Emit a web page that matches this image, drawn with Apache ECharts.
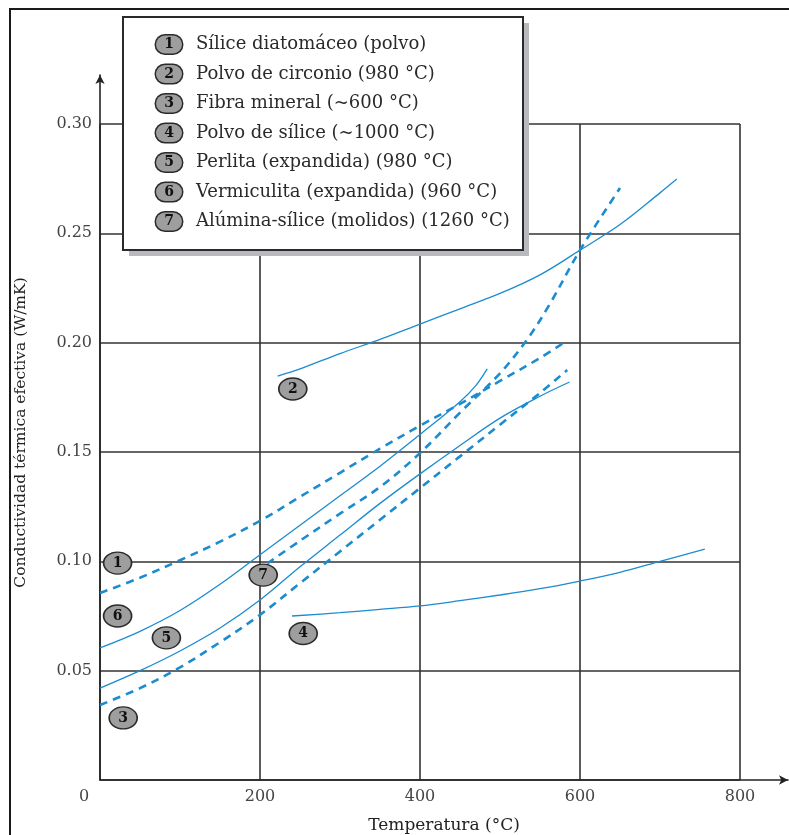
<!DOCTYPE html>
<html><head><meta charset="utf-8">
<script src="https://cdn.jsdelivr.net/npm/echarts@6/dist/echarts.min.js"></script>
<style>html,body{margin:0;padding:0;background:#fff}#c{width:789px;height:835px}</style>
</head><body><div id="c"></div>
<script>
// ---- data ----
const xTickValues = [0, 200, 400, 600, 800];
const yTickValues = [0.05, 0.10, 0.15, 0.20, 0.25, 0.30];
const seriesNames = [
  'Sílice diatomáceo (polvo)',
  'Polvo de circonio (980 °C)',
  'Fibra mineral (~600 °C)',
  'Polvo de sílice (~1000 °C)',
  'Perlita (expandida) (980 °C)',
  'Vermiculita (expandida) (960 °C)',
  'Alúmina-sílice (molidos) (1260 °C)'
];
const t1 = [0, 50, 100, 150, 200, 250, 300, 350, 400, 450, 500, 550, 584];
const k1 = [0.0855, 0.0925, 0.1005, 0.109, 0.1185, 0.1295, 0.1405, 0.1515, 0.162, 0.172, 0.1825, 0.193, 0.201];
const t2 = [222, 250, 300, 350, 400, 450, 500, 550, 600, 650, 700, 721];
const k2 = [0.1847, 0.188, 0.195, 0.2015, 0.2085, 0.2155, 0.2225, 0.231, 0.2423, 0.254, 0.2685, 0.2748];
const t3 = [0, 50, 100, 150, 200, 250, 300, 350, 400, 450, 500, 550, 584];
const k3 = [0.0343, 0.042, 0.0515, 0.063, 0.0755, 0.09, 0.1045, 0.119, 0.1335, 0.148, 0.1625, 0.177, 0.1875];
const t4 = [240, 300, 350, 400, 450, 500, 550, 600, 650, 700, 756];
const k4 = [0.075, 0.0765, 0.078, 0.0796, 0.082, 0.0846, 0.0875, 0.091, 0.095, 0.1, 0.1056];
const t5 = [0, 50, 100, 150, 200, 250, 300, 350, 400, 450, 500, 550, 587];
const k5 = [0.042, 0.05, 0.059, 0.0695, 0.0823, 0.0975, 0.112, 0.1265, 0.14, 0.153, 0.1655, 0.1755, 0.182];
const t6 = [0, 50, 100, 150, 200, 250, 300, 350, 400, 450, 470, 484];
const k6 = [0.0604, 0.068, 0.0775, 0.0895, 0.103, 0.1165, 0.13, 0.1435, 0.158, 0.173, 0.1805, 0.188];
const t7 = [209, 250, 300, 350, 400, 450, 500, 534, 562, 600, 650];
const k7 = [0.099, 0.1094, 0.1218, 0.134, 0.1495, 0.168, 0.186, 0.2015, 0.2175, 0.2423, 0.2707];
const markerNumbers = [1, 2, 3, 4, 5, 6, 7];
const markerT = [22, 241, 29, 254, 83, 22, 204];
const markerK = [0.0992, 0.1788, 0.0284, 0.067, 0.065, 0.075, 0.0937];

// ---- chart ----
const curvesT = [t1, t2, t3, t4, t5, t6, t7];
const curvesK = [k1, k2, k3, k4, k5, k6, k7];
const isDashed = [true, false, true, false, false, false, true];
const FONT = 'DejaVu Serif';
const BLUE = '#1b8ccf';
const GRIDC = '#333';

const chart = echarts.init(document.getElementById('c'), null, {renderer: 'canvas'});
const series = curvesT.map((T, i) => ({
  name: seriesNames[i],
  type: 'line',
  xAxisIndex: 0, yAxisIndex: 0,
  data: T.map((t, j) => [t, curvesK[i][j]]),
  smooth: 0.35,
  showSymbol: false,
  silent: true,
  z: 2,
  lineStyle: isDashed[i]
    ? {color: BLUE, width: 2.6, type: [8, 6]}
    : {color: BLUE, width: 1.3, type: 'solid'},
  itemStyle: {color: BLUE}
}));
series.push({
  name: 'marcas',
  type: 'scatter',
  xAxisIndex: 0, yAxisIndex: 0,
  data: markerNumbers.map((n, i) => [markerT[i], markerK[i], n]),
  symbol: 'circle',
  symbolSize: [28, 22],
  silent: true,
  z: 5,
  itemStyle: {color: '#9e9e9e', borderColor: '#2b2b2b', borderWidth: 1.5, opacity: 1},
  label: {show: true, position: 'inside', formatter: p => String(p.value[2]),
          fontFamily: FONT, fontWeight: 'bold', fontSize: 14, color: '#111'}
});

chart.setOption({
  animation: false,
  backgroundColor: '#fff',
  grid: [
    {left: 100, top: 124, width: 640, height: 656, containLabel: false, outerBoundsMode: 'none'},
    {left: 100, top: 75, width: 688, height: 705, containLabel: false, outerBoundsMode: 'none'}
  ],
  xAxis: [
    {gridIndex: 0, type: 'value', min: 0, max: 800, interval: 200,
     axisLine: {show: false}, axisTick: {show: false},
     splitLine: {show: true, lineStyle: {color: GRIDC, width: 1.6}},
     axisLabel: {margin: 9, fontFamily: FONT, fontSize: 16, color: '#444',
       formatter: v => (v === 0 ? '{z|0}' : String(v)),
       rich: {z: {fontFamily: FONT, fontSize: 16, color: '#444', padding: [0, 32, 0, 0]}}}},
    {gridIndex: 1, type: 'value', min: 0, max: 860,
     axisLine: {show: true, symbol: ['none', 'arrow'], symbolSize: [7, 9], lineStyle: {color: '#222', width: 1.6}},
     axisTick: {show: false}, axisLabel: {show: false}, splitLine: {show: false},
     name: 'Temperatura (°C)', nameLocation: 'middle', nameGap: 37,
     nameTextStyle: {fontFamily: FONT, fontSize: 17, color: '#222'}}
  ],
  yAxis: [
    {gridIndex: 0, type: 'value', min: 0, max: 0.30, interval: 0.05,
     axisLine: {show: false}, axisTick: {show: false},
     splitLine: {show: true, lineStyle: {color: GRIDC, width: 1.6}},
     axisLabel: {margin: 8, showMinLabel: false, fontFamily: FONT, fontSize: 16, color: '#444',
       formatter: v => v.toFixed(2)}},
    {gridIndex: 1, type: 'value', min: 0, max: 0.3224,
     axisLine: {show: true, symbol: ['none', 'arrow'], symbolSize: [7, 9], lineStyle: {color: '#222', width: 1.6}},
     axisTick: {show: false}, axisLabel: {show: false}, splitLine: {show: false},
     name: 'Conductividad térmica efectiva (W/mK)', nameLocation: 'middle', nameGap: 71,
     nameTextStyle: {fontFamily: FONT, fontSize: 15.5, color: '#222', padding: [0, 10, 0, 0]}}
  ],
  legend: {
    data: seriesNames,
    orient: 'vertical',
    left: 151, top: 34,
    padding: 0,
    itemGap: 8.5,
    itemWidth: 0, itemHeight: 14,
    icon: 'none',
    selectedMode: false,
    z: 10,
    formatter: name => '{n|' + (seriesNames.indexOf(name) + 1) + '}{t|' + name + '}',
    textStyle: {
      fontFamily: FONT, fontSize: 18, color: '#2a2a2a',
      rich: {
        n: {width: 26, height: 18, borderRadius: 10, backgroundColor: '#9e9e9e',
            borderColor: '#2b2b2b', borderWidth: 1.5, align: 'center',
            fontFamily: FONT, fontWeight: 'bold', fontSize: 14, color: '#111', lineHeight: 20},
        t: {fontFamily: FONT, fontSize: 18, color: '#2a2a2a', padding: [0, 0, 0, 14], lineHeight: 20}
      }
    }
  },
  graphic: [
    {type: 'rect', z: 1, shape: {x: 10, y: 9, width: 800, height: 840},
     style: {fill: 'none', stroke: '#1a1a1a', lineWidth: 2}, silent: true},
    {type: 'rect', z: 3, shape: {x: 129, y: 23, width: 400, height: 233},
     style: {fill: '#b9babd'}, silent: true},
    {type: 'rect', z: 3, shape: {x: 123, y: 17, width: 400, height: 233},
     style: {fill: '#fff', stroke: '#2a2a2a', lineWidth: 2}, silent: true}
  ],
  series: series
});
</script>
</body></html>
